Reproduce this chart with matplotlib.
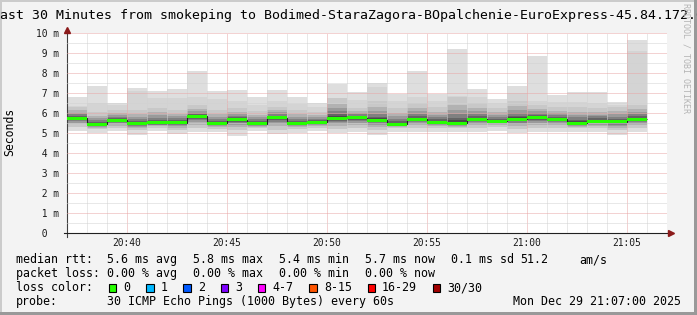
import matplotlib
matplotlib.use('Agg')
import matplotlib.pyplot as plt
from matplotlib.patches import Rectangle
import numpy as np

# one column per minute, first column starts 20:37 (values in ms)
start_label = '20:37'
median_ms = [5.73, 5.44, 5.63, 5.48, 5.51, 5.51, 5.83, 5.48, 5.66, 5.46,
             5.76, 5.48, 5.53, 5.73, 5.76, 5.63, 5.43, 5.69, 5.55, 5.50,
             5.69, 5.58, 5.69, 5.76, 5.69, 5.50, 5.60, 5.56, 5.69]
max_ms = [6.81, 7.36, 6.50, 7.25, 7.11, 7.21, 8.11, 7.11, 7.16, 6.80,
          7.15, 6.80, 6.48, 7.47, 7.05, 7.50, 6.96, 8.11, 6.95, 9.20,
          7.21, 6.72, 7.36, 8.87, 6.90, 7.04, 7.04, 6.55, 9.65]
second_ms = [6.35, 6.50, 6.40, 7.10, 6.75, 6.75, 6.80, 6.70, 6.60, 6.40,
             6.60, 6.45, 6.30, 6.77, 6.65, 7.30, 6.60, 6.80, 6.60, 6.85,
             6.80, 6.50, 7.00, 6.60, 6.55, 6.55, 6.50, 6.40, 9.10]
upper_ms = [6.30, 6.05, 6.15, 6.15, 6.25, 6.15, 6.38, 6.15, 6.25, 6.10,
            6.30, 6.15, 6.05, 6.75, 6.25, 6.60, 6.25, 6.50, 6.30, 6.80,
            6.50, 6.25, 6.60, 6.40, 6.30, 6.30, 6.25, 6.30, 6.40]
lower_ms = [5.30, 5.20, 5.25, 5.15, 5.25, 5.15, 5.25, 5.20, 5.15, 5.25,
            5.15, 5.20, 5.25, 5.20, 5.25, 5.15, 5.25, 5.25, 5.25, 5.25,
            5.25, 5.30, 5.20, 5.25, 5.25, 5.25, 5.25, 5.15, 5.25]
min_ms = [5.10, 5.00, 5.10, 4.90, 5.10, 4.93, 5.07, 5.03, 4.87, 5.10,
          4.93, 5.00, 5.10, 5.00, 5.07, 4.90, 5.07, 5.05, 5.05, 5.05,
          5.07, 5.12, 5.00, 5.05, 5.05, 5.07, 5.07, 4.90, 5.05]

xtick_labels = ['20:40', '20:45', '20:50', '20:55', '21:00', '21:05']
ytick_labels = [' 0  ', ' 1 m', ' 2 m', ' 3 m', ' 4 m', ' 5 m', ' 6 m', ' 7 m', ' 8 m', ' 9 m', '10 m']

stats_rtt = ['5.6 ms avg', '5.8 ms max', '5.4 ms min', '5.7 ms now', '0.1 ms sd', '51.2', 'am/s']
stats_loss = ['0.00 % avg', '0.00 % max', '0.00 % min', '0.00 % now']
loss_labels = ['0', '1', '2', '3', '4-7', '8-15', '16-29', '30/30']
loss_colors = ['#26ff00', '#00b8ff', '#0059ff', '#7e00ff', '#ff00ff', '#ff5500', '#ff0000', '#a10000']

title = 'Last 30 Minutes from smokeping to Bodimed-StaraZagora-BOpalchenie-EuroExpress-45.84.172.6'
probe = '30 ICMP Echo Pings (1000 Bytes) every 60s'
stamp = 'Mon Dec 29 21:07:00 2025'

MONO = 'DejaVu Sans Mono'
W, H = 697, 315

def minutes(label):
    h, m = label.split(':')
    return int(h) * 60 + int(m)

t0 = minutes(start_label)
med = np.array(median_ms)
hi = np.array(max_ms)
hi2 = np.array(second_ms)
up = np.array(upper_ms)
low = np.array(lower_ms)
lo = np.array(min_ms)
cols = np.arange(len(med))

fig = plt.figure(figsize=(W / 100, H / 100), dpi=100, facecolor='#f3f3f3')
ax = fig.add_axes([67 / W, 1 - 233 / H, 600 / W, 200 / H])
ax.set_facecolor('white')

# smoke
bar_kw = dict(width=1, align='edge', linewidth=0, antialiased=False, zorder=1)
ax.bar(cols, hi - lo, bottom=lo, color='#dedede', **bar_kw)
ax.bar(cols, hi2 - low, bottom=low, color='#d4d4d4', **bar_kw)
fracs = [0.0, 0.3, 0.5, 0.65, 0.8, 0.9]
grays = ['#c8c8c8', '#b2b2b2', '#9a9a9a', '#808080', '#646464', '#4a4a4a']
for f, g in zip(fracs, grays):
    b = low + (med - low) * f
    t = up - (up - med) * f
    ax.bar(cols, t - b, bottom=b, color=g, **bar_kw)

# median line + loss-colored bar
ax.stairs(med, np.arange(len(med) + 1), color='#202020', linewidth=0.8, baseline=None, zorder=2.8)
ax.bar(cols, 0.15, bottom=med - 0.075, width=1, align='edge', color=loss_colors[0],
       linewidth=0, antialiased=False, zorder=3)

ax.set_xlim(0, 30)
ax.set_ylim(0, 10)
major_x = [minutes(l) - t0 for l in xtick_labels]
ax.set_xticks(major_x, xtick_labels)
ax.set_xticks([m for m in range(1, 30) if m not in major_x], minor=True)
ax.set_yticks(range(11), ytick_labels)
ax.set_yticks(np.arange(0.5, 10, 1.0), minor=True)
ax.set_axisbelow(False)
ax.grid(which='minor', color='#d2d2d2', linestyle=(0, (1, 1)), linewidth=0.72)
ax.grid(which='major', color='#e8a6a6', linestyle=(0, (1, 1)), linewidth=0.72)

ax.tick_params(which='both', length=0, labelsize=6.9, colors='#1a1a1a')
ax.tick_params(axis='x', pad=3.4)
ax.tick_params(axis='y', pad=22.3)
for t in ax.get_yticklabels():
    t.set_ha('left')
for t in ax.get_xticklabels() + ax.get_yticklabels():
    t.set_family(MONO)

for s in ['top', 'right']:
    ax.spines[s].set_visible(False)
ax.spines['left'].set_color('#404040')
ax.spines['bottom'].set_color('#202020')
ax.spines['left'].set_linewidth(0.8)
ax.spines['bottom'].set_linewidth(0.8)
ax.spines['left'].set_bounds(-0.2, 10.15)
ax.spines['bottom'].set_bounds(-0.15, 30.1)
ax.plot([0], [1.0175], marker='^', markersize=4.5, color='#8b1a1a', transform=ax.transAxes, clip_on=False, zorder=5)
ax.plot([1.006], [0], marker='>', markersize=4.5, color='#8b1a1a', transform=ax.transAxes, clip_on=False, zorder=5)

def ftext(x, y, s, **kw):
    kw.setdefault('family', MONO)
    kw.setdefault('va', 'baseline')
    kw.setdefault('color', '#000000')
    fig.text(x / W, 1 - y / H, s, **kw)

ftext(-8, 18.5, title, fontsize=9.5)
ftext(10, 132, 'Seconds', fontsize=8.3, rotation=90, ha='center', va='center')
ftext(686, 58, 'RRDTOOL / TOBI OETIKER', fontsize=6.0, rotation=270, ha='center', va='center', color='#b4b4b4')

fs = 8.4
ftext(16, 263.3, 'median rtt:', fontsize=fs)
for s, x in zip(stats_rtt, [107, 193, 279, 365, 451, 520, 579]):
    ftext(x, 263.3, s, fontsize=fs)
ftext(16, 277.3, 'packet loss:', fontsize=fs)
for s, x in zip(stats_loss, [107, 193, 279, 365]):
    ftext(x, 277.3, s, fontsize=fs)
ftext(16, 291.3, 'loss color:', fontsize=fs)
x = 108.7
for lab, c in zip(loss_labels, loss_colors):
    fig.add_artist(Rectangle((x / W, 1 - 291.5 / H), 7.5 / W, 7.5 / H, transform=fig.transFigure,
                             facecolor=c, edgecolor='black', linewidth=0.8))
    ftext(x + 14.6, 291.3, lab, fontsize=fs)
    x += 14.6 + 7.0 * len(lab) + 15.7
ftext(16, 305, 'probe:', fontsize=fs)
ftext(107, 305, probe, fontsize=fs)
ftext(512.7, 305, stamp, fontsize=fs)

# frame shading
fig.add_artist(Rectangle((0, 1 - 2 / H), 1, 2 / H, transform=fig.transFigure, facecolor='#cbcbcb', linewidth=0))
fig.add_artist(Rectangle((0, 0), 2 / W, 1, transform=fig.transFigure, facecolor='#cbcbcb', linewidth=0))
fig.add_artist(Rectangle((0, 0), 1, 3 / H, transform=fig.transFigure, facecolor='#999999', linewidth=0))
fig.add_artist(Rectangle((1 - 3 / W, 0), 3 / W, 1, transform=fig.transFigure, facecolor='#999999', linewidth=0))

fig.savefig('out.png', dpi=100, facecolor=fig.get_facecolor())
